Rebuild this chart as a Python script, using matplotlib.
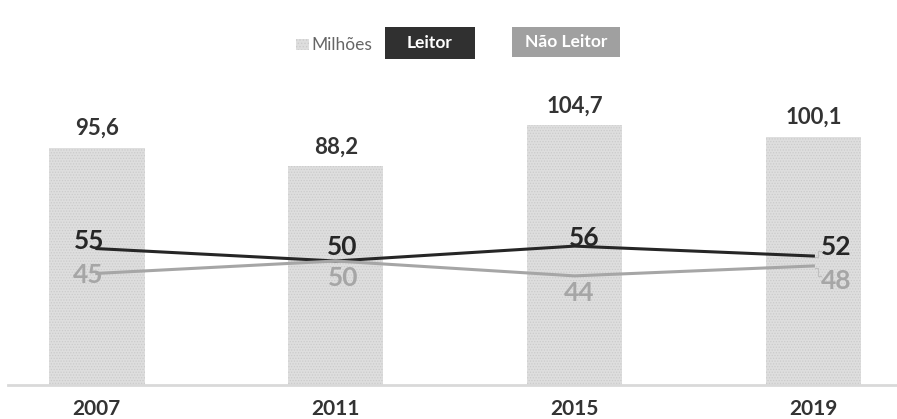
import matplotlib
matplotlib.use("Agg")
import matplotlib.pyplot as plt
from matplotlib.patches import Rectangle

plt.rcParams['font.family'] = ['Lato', 'DejaVu Sans']
plt.rcParams['hatch.linewidth'] = 0.6

years = ["2007", "2011", "2015", "2019"]
milhoes = [95.6, 88.2, 104.7, 100.1]
leitor = [55, 50, 56, 52]
nao_leitor = [45, 50, 44, 48]

milhoes_labels = ["95,6", "88,2", "104,7", "100,1"]

DARK = "#262626"
GRAY = "#a6a6a6"
BAR = "#dedede"
TXT = "#333333"

W, H = 897, 419
fig = plt.figure(figsize=(W / 100, H / 100), dpi=100)

# axes placement in pixels
ax_left, ax_right = 8, 897
ax_bottom, ax_top = 385, 88
ax = fig.add_axes([ax_left / W, 1 - ax_bottom / H,
                   (ax_right - ax_left) / W, (ax_bottom - ax_top) / H])

x = list(range(len(years)))
ax.bar(x, milhoes, width=0.40, color=BAR, edgecolor="#cbcbcb",
       linewidth=0, hatch="......", zorder=1)
ax.set_xlim(-0.372, 3.35)
ylim = (0, (ax_bottom - ax_top) / 2.48)
ax.set_ylim(*ylim)

for xi, v, lab in zip(x, milhoes, milhoes_labels):
    ax.annotate(lab, (xi, v), xytext=(0, 9), textcoords="offset pixels",
                ha="center", va="bottom", fontsize=16, fontweight="bold",
                color=TXT)

for s in ["top", "right", "left"]:
    ax.spines[s].set_visible(False)
ax.spines["bottom"].set_color("#d9d9d9")
ax.spines["bottom"].set_linewidth(2)
ax.set_yticks([])
ax.set_xticks(x)
ax.set_xticklabels(years, fontsize=15, fontweight="bold", color=TXT)
ax.tick_params(axis="x", length=0, pad=10)

# percentage lines on a twin axis with the same scale
ax2 = ax.twinx()
ax2.set_ylim(*ylim)
ax2.axis("off")
ax2.plot(x, leitor, color=DARK, linewidth=2.2, zorder=3)
ax2.plot(x, nao_leitor, color=GRAY, linewidth=2.2, zorder=3)

lead_offsets = [(-8, 8), (6, 14), (10, 8), (23, 9)]
non_offsets = [(-9, -2), (7, -17), (5, -17), (23, -15)]
for i in x:
    ax2.annotate(str(leitor[i]), (i, leitor[i]), xytext=lead_offsets[i],
                 textcoords="offset pixels", ha="center", va="center",
                 fontsize=19, fontweight="bold", color=DARK, zorder=4)
    ax2.annotate(str(nao_leitor[i]), (i, nao_leitor[i]), xytext=non_offsets[i],
                 textcoords="offset pixels", ha="center", va="center",
                 fontsize=19, fontweight="bold", color=GRAY, zorder=4)

# leader ticks for the last pair of labels
def px_line(pts):
    xs = [p[0] / W for p in pts]
    ys = [1 - p[1] / H for p in pts]
    fig.add_artist(plt.Line2D(xs, ys, color="#bfbfbf", linewidth=0.8))

px_line([(815, 257), (818, 257), (818, 251), (821, 251)])
px_line([(815, 268), (818, 268), (818, 276), (821, 276)])

# legend entries at the top
fig.add_artist(Rectangle((296 / W, 1 - 50 / H), 13 / W, 11 / H,
                         transform=fig.transFigure, facecolor=BAR,
                         edgecolor="#cbcbcb", linewidth=0, hatch="....."))
fig.text(311 / W, 1 - 44.5 / H, "Milhões", fontsize=12.5, color="#666666",
         ha="left", va="center")
fig.add_artist(Rectangle((385 / W, 1 - 59 / H), 90 / W, 32 / H,
                         transform=fig.transFigure, facecolor="#303030",
                         linewidth=0))
fig.text(430 / W, 1 - 43 / H, "Leitor", fontsize=12.5, fontweight="bold",
         color="white", ha="center", va="center")
fig.add_artist(Rectangle((512 / W, 1 - 57 / H), 108 / W, 30 / H,
                         transform=fig.transFigure, facecolor="#a0a0a0",
                         linewidth=0))
fig.text(566 / W, 1 - 42 / H, "Não Leitor", fontsize=12.5, fontweight="bold",
         color="white", ha="center", va="center")

fig.savefig("out.png", dpi=100, facecolor="white")
